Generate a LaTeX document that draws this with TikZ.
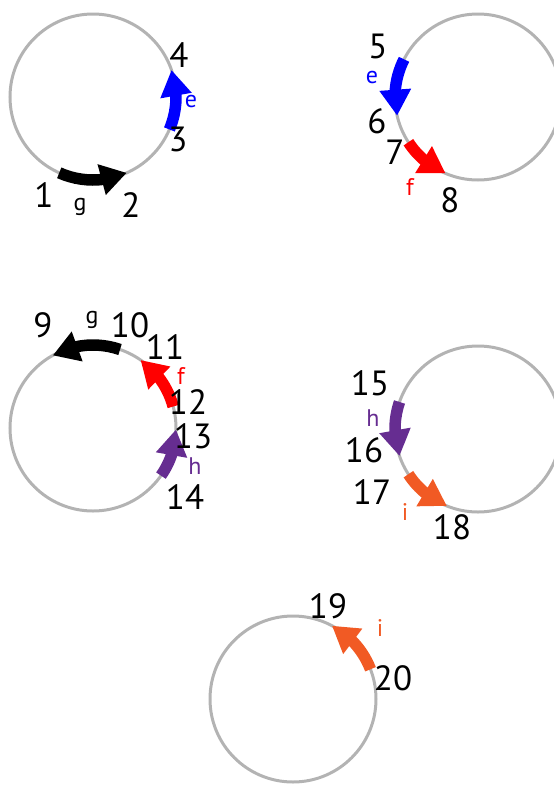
\documentclass[tikz,border=0pt]{standalone}
\usepackage{fontspec}
\setmainfont{PT Sans}
\usetikzlibrary{arrows.meta,bending}
\definecolor{ringgray}{HTML}{B3B3B3}
\definecolor{cblue}{HTML}{0000FF}
\definecolor{cred}{HTML}{FF0000}
\definecolor{cpurple}{HTML}{662D91}
\definecolor{corange}{HTML}{F15A24}
\tikzset{
  ring/.style={circle,draw=ringgray,line width=3pt,minimum size=166pt,inner sep=0pt,outer sep=0pt},
  num/.style={inner sep=0pt,font=\fontsize{35}{35}\selectfont},
  lab/.style={inner sep=0pt,font=\fontsize{24}{24}\selectfont},
  arc arrow/.style={line width=11.5pt,-{Triangle[length=26pt,width=30pt]}}
}
\begin{document}
\begin{tikzpicture}[x=1pt,y=1pt]
\useasboundingbox (0,0) rectangle (554,-785);
\clip (0,0) rectangle (554,-785);
% circles
\node[ring] (c1) at (93,-97) {};
\node[ring] (c2) at (478,-97) {};
\node[ring] (c3) at (93,-428) {};
\node[ring] (c4) at (478,-429) {};
\node[ring] (c5) at (293,-699) {};
% circle 1
\draw[arc arrow,black] (c1.-114) arc[start angle=-114,end angle=-66,radius=83];
\draw[arc arrow,cblue] (c1.-23) arc[start angle=-23,end angle=19,radius=83];
\node[num] (n1) at (44,-195) {1};
\node[lab] (lg1) at (80,-207) {g};
\node[num] (n2) at (131,-205) {2};
\node[num] (n3) at (178,-139) {3};
\node[num] (n4) at (179,-55) {4};
\node[lab,text=cblue] (le1) at (191,-101) {e};
% circle 2
\draw[arc arrow,cblue] (c2.153) arc[start angle=153,end angle=193,radius=83];
\draw[arc arrow,cred] (c2.213) arc[start angle=213,end angle=247,radius=83];
\node[num] (n5) at (378,-46) {5};
\node[lab,text=cblue] (le2) at (372,-77) {e};
\node[num] (n6) at (377,-121) {6};
\node[num] (n7) at (395,-152) {7};
\node[lab,text=cred] (lf1) at (410,-187) {f};
\node[num] (n8) at (450,-200) {8};
% circle 3
\draw[arc arrow,black] (c3.71) arc[start angle=71,end angle=119,radius=83];
\draw[arc arrow,cred] (c3.15) arc[start angle=15,end angle=55,radius=83];
\draw[arc arrow,cpurple] (c3.-35) arc[start angle=-35,end angle=-1,radius=83];
\node[num] (n9) at (43,-325) {9};
\node[lab] (lg2) at (92,-320) {g};
\node[num] (n10) at (130,-325) {10};
\node[num] (n11) at (165,-347) {11};
\node[lab,text=cred] (lf2) at (181,-376) {f};
\node[num] (n12) at (188,-402) {12};
\node[num] (n13) at (193,-436) {13};
\node[lab,text=cpurple] (lh1) at (195,-466) {h};
\node[num] (n14) at (185,-497) {14};
% circle 4
\draw[arc arrow,cpurple] (c4.161) arc[start angle=161,end angle=199,radius=83];
\draw[arc arrow,corange] (c4.213) arc[start angle=213,end angle=248,radius=83];
\node[num] (n15) at (370,-383) {15};
\node[lab,text=cpurple] (lh2) at (373,-418) {h};
\node[num] (n16) at (364,-450) {16};
\node[num] (n17) at (372,-492) {17};
\node[lab,text=corange] (li1) at (405,-512) {i};
\node[num] (n18) at (452,-527) {18};
% circle 5
\draw[arc arrow,corange] (c5.21) arc[start angle=21,end angle=62,radius=83];
\node[num] (n19) at (328,-606) {19};
\node[lab,text=corange] (li2) at (380,-628) {i};
\node[num] (n20) at (393,-678) {20};
\end{tikzpicture}
\end{document}
